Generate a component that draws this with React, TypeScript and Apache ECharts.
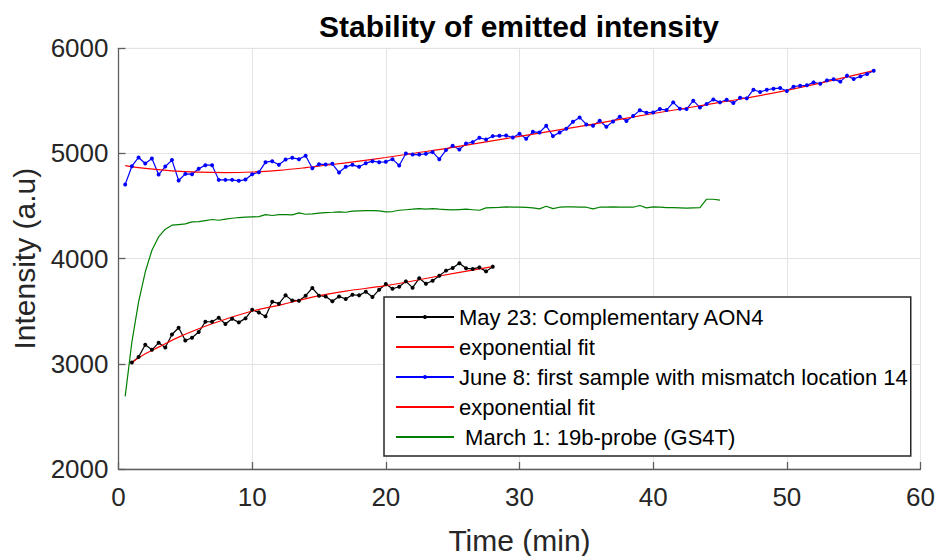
import React, { useEffect, useRef } from "react";
import * as echarts from "echarts";

// ---- data ----
const SAMPLE_STEP = 0.5; // minutes between samples

// May 23: Complementary AON4 (starts at 1.0 min)
const mayStart = 1.0;
const mayValues = [
  3013, 3064, 3181, 3133, 3200, 3156, 3279, 3343, 3222, 3248, 3302, 3400, 3400,
  3438, 3378, 3429, 3394, 3432, 3514, 3489, 3451, 3591, 3572, 3651, 3603, 3600,
  3648, 3721, 3648, 3641, 3594, 3641, 3616, 3657, 3651, 3686, 3635, 3705, 3759,
  3714, 3733, 3784, 3724, 3813, 3762, 3790, 3838, 3886, 3911, 3956, 3908, 3902,
  3917, 3879, 3924,
];
const mayFit: [number, number][] = [
  [1, 3013], [2, 3095], [3, 3159], [4.5, 3254], [7, 3381], [10, 3502],
  [12, 3556], [14.5, 3635], [17, 3692], [20, 3743], [24, 3835], [28, 3924],
];

// June 8: first sample with mismatch location 14 (starts at 0.5 min)
const juneStart = 0.5;
const juneValues = [
  4705, 4879, 4962, 4905, 4952, 4800, 4876, 4937, 4743, 4806, 4803, 4854, 4889,
  4889, 4749, 4749, 4749, 4740, 4752, 4803, 4822, 4917, 4927, 4892, 4943, 4959,
  4946, 4978, 4860, 4898, 4895, 4902, 4819, 4873, 4892, 4873, 4908, 4927, 4917,
  4921, 4946, 4886, 5000, 4990, 4990, 4997, 5013, 4946, 5032, 5073, 5038, 5095,
  5108, 5149, 5133, 5165, 5168, 5171, 5152, 5187, 5140, 5206, 5200, 5264, 5165,
  5200, 5235, 5302, 5343, 5276, 5264, 5311, 5254, 5305, 5349, 5308, 5356, 5410,
  5387, 5390, 5422, 5413, 5486, 5425, 5422, 5502, 5438, 5470, 5514, 5486, 5511,
  5479, 5530, 5524, 5606, 5584, 5606, 5616, 5622, 5594, 5635, 5644, 5648, 5676,
  5663, 5695, 5705, 5683, 5740, 5708, 5733, 5756, 5787,
];
const juneFit: [number, number][] = [
  [0.5, 4885], [2, 4858], [4, 4835], [6, 4822], [8, 4818], [10, 4824],
  [12, 4840], [14, 4865], [16, 4895], [18, 4928], [20, 4962], [22, 5000],
  [25, 5058], [30, 5163], [35, 5268], [40, 5380], [45, 5485], [50, 5600],
  [56.5, 5787],
];

// March 1: 19b-probe (GS4T) (starts at 0.5 min)
const marchStart = 0.5;
const marchValues = [
  2690, 3206, 3587, 3873, 4080, 4206, 4280, 4318, 4324, 4330, 4349, 4352, 4362,
  4372, 4365, 4375, 4384, 4391, 4394, 4397, 4400, 4419, 4410, 4419, 4419, 4416,
  4435, 4422, 4425, 4432, 4438, 4441, 4445, 4441, 4451, 4454, 4457, 4457, 4454,
  4445, 4448, 4460, 4465, 4470, 4476, 4470, 4476, 4470, 4467, 4464, 4467, 4470,
  4465, 4460, 4483, 4486, 4488, 4492, 4490, 4489, 4487, 4483, 4473, 4498, 4476,
  4489, 4492, 4492, 4489, 4489, 4473, 4489, 4490, 4492, 4490, 4489, 4489, 4505,
  4483, 4492, 4489, 4486, 4486, 4483, 4480, 4483, 4486, 4565, 4565, 4556,
];

const legendLabels: Record<string, string> = {
  may: "May 23: Complementary AON4",
  fitMay: "exponential fit",
  june: "June 8: first sample with mismatch location 14",
  fitJune: "exponential fit",
  march: " March 1: 19b-probe (GS4T)",
};

const xTicks = { min: 0, max: 60, interval: 10 };
const yTicks = { min: 2000, max: 6000, interval: 1000 };

function toPairs(start: number, values: number[]): [number, number][] {
  return values.map((v, i) => [start + i * SAMPLE_STEP, v]);
}

const FONT = "'Liberation Sans', Arial, Helvetica, sans-serif";
const NO_DOT = { color: "rgba(0,0,0,0)", borderColor: "rgba(0,0,0,0)", borderWidth: 0 };

export default function App() {
  const ref = useRef<HTMLDivElement>(null);
  useEffect(() => {
    if (!ref.current) return;
    const chart = echarts.init(ref.current, undefined, { renderer: "svg" });
    const axisColor = "#5e5e5e";
    const gridColor = "#e3e3e3";
    chart.setOption({
      animation: false,
      backgroundColor: "#ffffff",
      textStyle: { fontFamily: FONT },
      title: {
        text: "Stability of emitted intensity",
        left: 314,
        top: 6,
        textStyle: { fontFamily: FONT, fontSize: 30, fontWeight: "bold", color: "#000" },
      },
      grid: {
        left: 118.5,
        right: 15.5,
        top: 48.3,
        bottom: 87,
        show: true,
        borderColor: gridColor,
        borderWidth: 1,
        containLabel: false,
        outerBoundsMode: "none",
      },
      xAxis: {
        type: "value",
        ...xTicks,
        name: "Time (min)",
        nameLocation: "middle",
        nameGap: 56,
        nameTextStyle: { fontFamily: FONT, fontSize: 30, color: "#262626" },
        axisLine: { show: true, onZero: false, lineStyle: { color: axisColor, width: 1.3 } },
        axisTick: { show: true, inside: true, length: 7, lineStyle: { color: axisColor, width: 1.3 } },
        axisLabel: { fontFamily: FONT, fontSize: 26, color: "#262626", margin: 15 },
        splitLine: { show: true, lineStyle: { color: gridColor, width: 1 } },
      },
      yAxis: {
        type: "value",
        ...yTicks,
        name: "Intensity (a.u)",
        nameLocation: "middle",
        nameGap: 74,
        nameTextStyle: { fontFamily: FONT, fontSize: 30, color: "#262626" },
        axisLine: { show: true, onZero: false, lineStyle: { color: axisColor, width: 1.3 } },
        axisTick: { show: true, inside: true, length: 7, lineStyle: { color: axisColor, width: 1.3 } },
        axisLabel: {
          fontFamily: FONT,
          fontSize: 26,
          color: "#262626",
          margin: 10,
          formatter: (v: number) => String(v),
        },
        splitLine: { show: true, lineStyle: { color: gridColor, width: 1 } },
      },
      legend: {
        orient: "vertical",
        left: 384,
        top: 297,
        padding: [9, 3, 8, 11],
        itemGap: 8,
        itemWidth: 58,
        itemHeight: 5,
        backgroundColor: "#ffffff",
        borderColor: "#262626",
        borderWidth: 1.5,
        borderRadius: 0,
        data: [
          { name: "may" },
          { name: "fitMay", itemStyle: NO_DOT },
          { name: "june" },
          { name: "fitJune", itemStyle: NO_DOT },
          { name: "march", itemStyle: NO_DOT },
        ],
        formatter: (name: string) => legendLabels[name],
        textStyle: { fontFamily: FONT, fontSize: 22, color: "#000", lineHeight: 22 },
      },
      series: [
        {
          name: "march",
          type: "line",
          data: toPairs(marchStart, marchValues),
          symbol: "none",
          lineStyle: { color: "#008000", width: 1.2 },
          itemStyle: { color: "#008000" },
        },
        {
          name: "may",
          type: "line",
          data: toPairs(mayStart, mayValues),
          symbol: "circle",
          symbolSize: 4,
          showSymbol: true,
          lineStyle: { color: "#000000", width: 1.2 },
          itemStyle: { color: "#000000" },
        },
        {
          name: "june",
          type: "line",
          data: toPairs(juneStart, juneValues),
          symbol: "circle",
          symbolSize: 4,
          showSymbol: true,
          lineStyle: { color: "#0000ff", width: 1.2 },
          itemStyle: { color: "#0000ff" },
        },
        {
          name: "fitMay",
          type: "line",
          data: mayFit,
          smooth: 0.4,
          symbol: "none",
          lineStyle: { color: "#ff0000", width: 1.2 },
          itemStyle: { color: "#ff0000" },
        },
        {
          name: "fitJune",
          type: "line",
          data: juneFit,
          smooth: 0.4,
          symbol: "none",
          lineStyle: { color: "#ff0000", width: 1.2 },
          itemStyle: { color: "#ff0000" },
        },
      ],
    });
    return () => chart.dispose();
  }, []);
  return (
    <div
      ref={ref}
      style={{ position: "fixed", left: 0, top: 0, width: 936, height: 556, background: "#fff" }}
    />
  );
}
